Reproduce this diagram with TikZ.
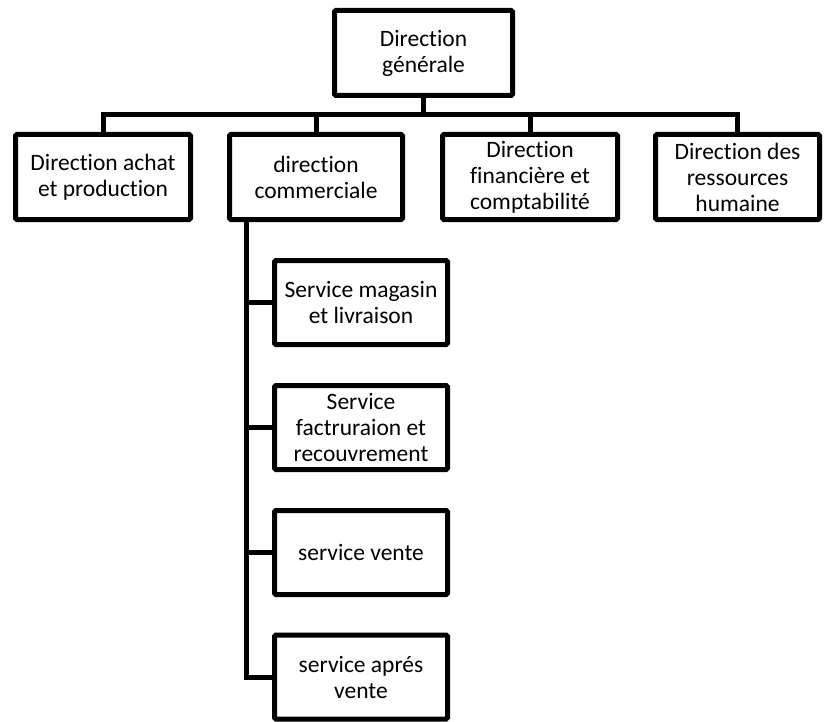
\documentclass[tikz,border=0pt]{standalone}
\usepackage{fontspec}
\setmainfont[Ligatures=NoCommon]{Carlito}
\begin{document}
\begin{tikzpicture}[x=1pt,y=-1pt,
  box/.style={draw=black,fill=white,line width=5pt,rounded corners=1.5pt,align=center,
    inner sep=0pt,outer sep=0pt,font=\fontsize{23.5}{26}\selectfont},
  link/.style={draw=black,line width=5pt}]
\useasboundingbox (0,0) rectangle (824,722);
\node[box,minimum width=178,minimum height=85] (top) at (423.5,53) {Direction\\générale};
\node[box,minimum width=175,minimum height=85] (b1) at (103,177) {Direction achat\\et production};
\node[box,minimum width=173,minimum height=85] (b2) at (316,177) {direction\\commerciale};
\node[box,minimum width=175,minimum height=85] (b3) at (530,177) {Direction\\financière et\\comptabilité};
\node[box,minimum width=164,minimum height=85] (b4) at (737.5,177) {Direction des\\ressources\\humaine};
\node[box,minimum width=173,minimum height=84] (s1) at (361,302.5) {Service magasin\\et livraison};
\node[box,minimum width=173,minimum height=84] (s2) at (361,427.5) {Service\\factruraion et\\recouvrement};
\node[box,minimum width=173,minimum height=84] (s3) at (361,552.5) {service vente};
\node[box,minimum width=173,minimum height=84] (s4) at (361,677) {service aprés\\vente};
\coordinate (bus) at (0,115);
\coordinate (spine) at (246,219.5);
\draw[link] (top.south) -- (top.south |- bus);
\draw[link] (b1.north) -- (b1.north |- bus) -- (b4.north |- bus) -- (b4.north);
\draw[link] (b2.north |- bus) -- (b2.north);
\draw[link] (b3.north |- bus) -- (b3.north);
\draw[link] (spine) |- (s4.west);
\draw[link] (spine |- s1.west) -- (s1.west);
\draw[link] (spine |- s2.west) -- (s2.west);
\draw[link] (spine |- s3.west) -- (s3.west);
\end{tikzpicture}
\end{document}
